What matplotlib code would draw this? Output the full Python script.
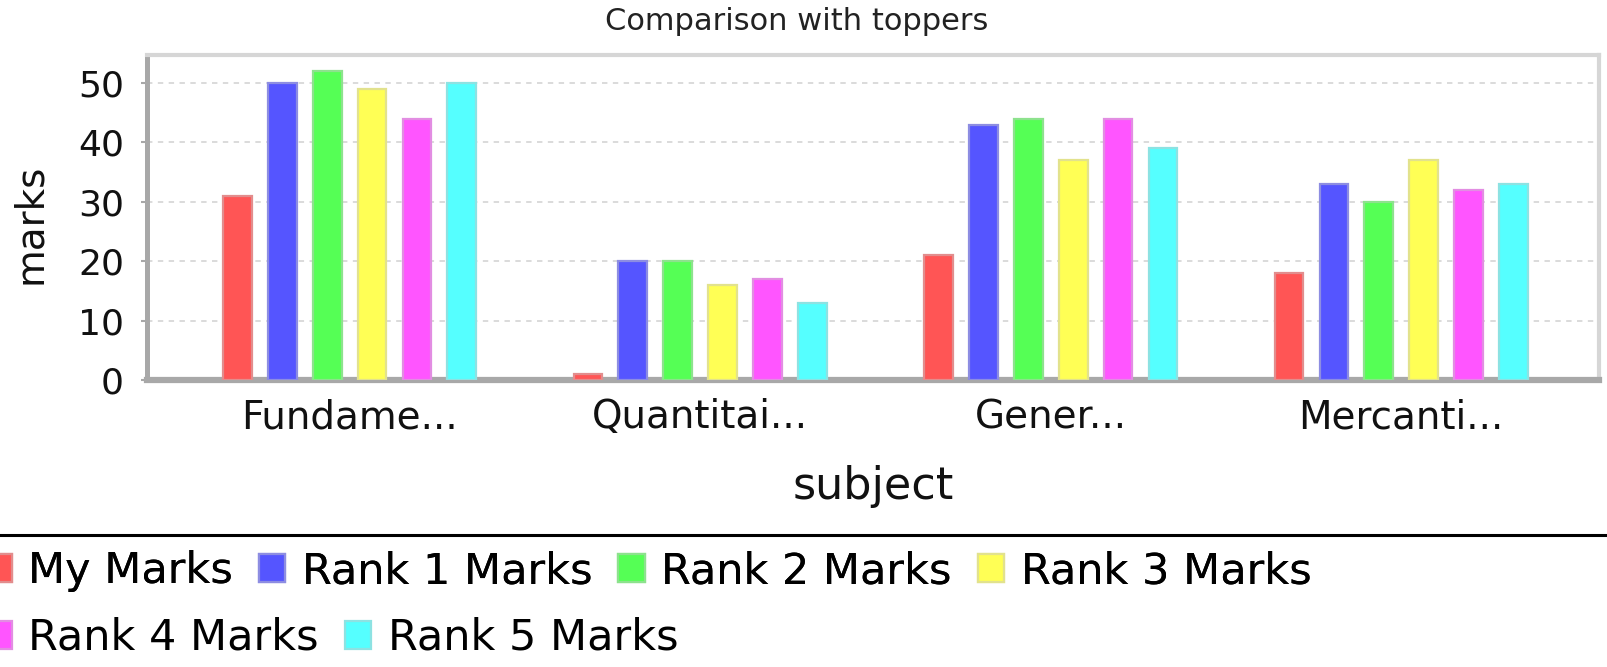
import numpy as np
import matplotlib.pyplot as plt
from matplotlib.lines import Line2D
from matplotlib.colors import to_rgb

subjects = ["Fundame...", "Quantitai...", "Gener...", "Mercanti..."]
series_names = ["My Marks", "Rank 1 Marks", "Rank 2 Marks",
                "Rank 3 Marks", "Rank 4 Marks", "Rank 5 Marks"]
my_marks = [31, 1, 21, 18]
rank1 = [50, 20, 43, 33]
rank2 = [52, 20, 44, 30]
rank3 = [49, 16, 37, 37]
rank4 = [44, 17, 44, 32]
rank5 = [50, 13, 39, 33]
colors = ["#ff5555", "#5555ff", "#55ff55", "#ffff55", "#ff55ff", "#55ffff"]


def edge_of(c, mix="#c4c4c4", t=0.5):
    a = np.array(to_rgb(c))
    b = np.array(to_rgb(mix))
    return tuple(a * (1 - t) + b * t)


W, H = 1608, 667
fig = plt.figure(figsize=(W / 100, H / 100), dpi=100)
plt.rcParams['font.family'] = ['DejaVu Sans']

left, right, top, bottom = 147, 1599, 55, 380
ax = fig.add_axes([left / W, 1 - bottom / H, (right - left) / W, (bottom - top) / H])

series = [my_marks, rank1, rank2, rank3, rank4, rank5]
x = np.arange(len(subjects))
pitch = 0.128
bw = 0.082
bars = []
for i, vals in enumerate(series):
    off = (i - 2.5) * pitch
    b = ax.bar(x + off, vals, width=bw, color=colors[i],
               edgecolor=edge_of(colors[i]), linewidth=1.6,
               label=series_names[i], zorder=3)
    bars.append(b)

ax.set_xlim(-0.578, 3.564)
ax.set_ylim(0, 54.7)
ax.set_yticks([0, 10, 20, 30, 40, 50])
ax.set_xticks(x)
ax.set_xticklabels(subjects)
ax.tick_params(axis='x', length=0, pad=13, labelsize=28, labelcolor='#111111')
ax.tick_params(axis='y', length=4.5, width=1.5, color='#a8a8a8', pad=12,
               labelsize=26, labelcolor='#111111')

ax.set_axisbelow(True)
ax.yaxis.grid(True, color='#d8d8d8', linestyle=(0, (3, 3)), linewidth=1.3)

for s in ['left', 'bottom']:
    ax.spines[s].set_color('#a8a8a8')
ax.spines['left'].set_linewidth(3.6)
ax.spines['bottom'].set_linewidth(4.5)
for s in ['top', 'right']:
    ax.spines[s].set_color('#d6d6d6')
    ax.spines[s].set_linewidth(3)

ax.set_xlabel("subject", fontsize=32, color='#111111')
ax.xaxis.label.set_va('center')
ax.xaxis.set_label_coords(0.5, (bottom - 487) / (bottom - top))
ax.set_ylabel("marks", fontsize=28, color='#111111')
ax.yaxis.label.set_va('center')
ax.yaxis.set_label_coords((30 - left) / (right - left), (bottom - 224) / (bottom - top))

fig.text(797 / W, 1 - 22 / H, "Comparison with toppers", fontsize=22,
         color='#222222', ha='center', va='center')

# separator above legend
fig.add_artist(Line2D([0, 1], [1 - 535 / H, 1 - 535 / H], transform=fig.transFigure,
                      color='black', linewidth=2.2))

leg_kw = dict(loc='center left', frameon=False, fontsize=31, borderpad=0,
              borderaxespad=0, handlelength=0.62, handleheight=0.62,
              handletextpad=0.38, columnspacing=0.6)
leg1 = fig.legend(bars[:4], series_names[:4], ncol=4,
                  bbox_to_anchor=(-15 / W, 1 - 571 / H), **leg_kw)
fig.add_artist(leg1)
fig.legend(bars[4:], series_names[4:], ncol=2,
           bbox_to_anchor=(-15 / W, 1 - 638 / H), **leg_kw)

fig.savefig("out.png", dpi=100, facecolor='white')
